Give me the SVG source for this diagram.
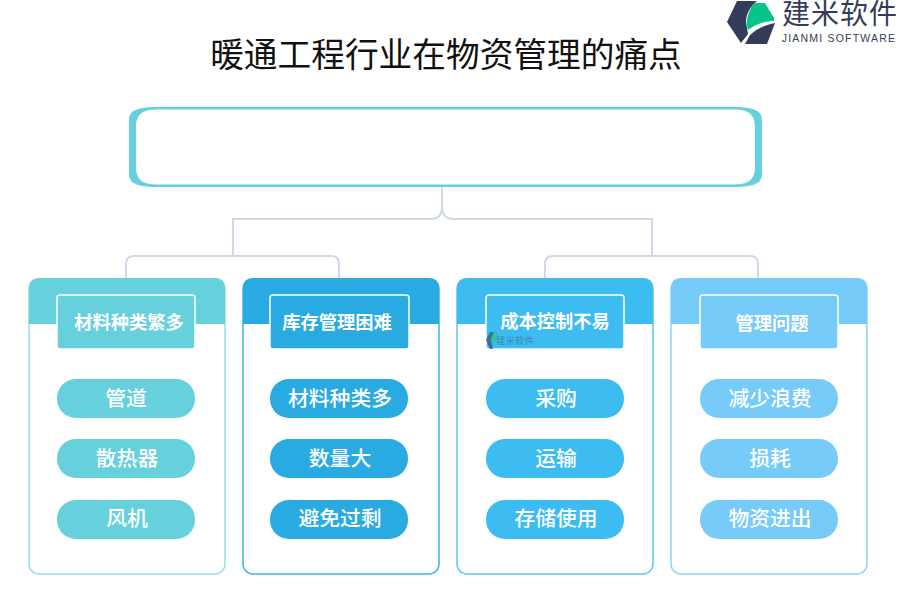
<svg xmlns="http://www.w3.org/2000/svg" width="900" height="600" viewBox="0 0 900 600">
<style>
text{font-family:"Liberation Serif","Noto Sans CJK SC",serif;text-anchor:middle}
.title{font-size:33.700px;fill:#111}
.h{font-size:18.300px;font-weight:700;fill:#fff}
.p{font-size:20.800px;font-weight:500;fill:#fff}
.c{fill:none;stroke:#cfd9e8;stroke-width:2}
.card{fill:#fff;stroke-width:1.5}
.lb{stroke:#fff;stroke-width:1.5}
.logo{font-family:"Liberation Sans","Noto Sans CJK SC",sans-serif;fill:#333c58}
</style>
<rect width="900" height="600" fill="#fff"/>
<text class="title" x="446" y="67">暖通工程行业在物资管理的痛点</text>
<g id="logo">
<path d="M737 1H757C750 7 746 14 746 22L748 34L741 43L727 22Z" fill="#333c58"/>
<path d="M755 3H765L774 18V21C763 21 754 25 748 30C747 26 746.500 23 747 20C748 13 751 7 755 3Z" fill="#06c58a"/>
<path d="M775 23L767 44H745L750 35C756 29 765 25 775 23Z" fill="#333c58"/>
<text class="logo" x="840" y="24" style="font-size:28px;letter-spacing:1px">建米软件</text>
<text class="logo" x="839" y="42" style="font-size:10.500px;letter-spacing:1.200px">JIANMI SOFTWARE</text>
</g>
<g id="root">
<path fill="#66d1dc" fill-rule="evenodd" d="M158 107H733C750 107 762 109 762 120V174C762 185 750 187 733 187H158C141 187 129 185 129 174V120C129 109 141 107 158 107ZM158 109.500C145 109.500 136 112 136 128V166C136 182 145 184.500 158 184.500H733C746 184.500 755 182 755 166V128C755 112 746 109.500 733 109.500Z"/>
</g>
<g id="connectors">
<path class="c" d="M442 187V207Q442 219 430 219H233V256"/>
<path class="c" d="M442 207Q442 219 454 219H652V256"/>
<path class="c" d="M126 278V264Q126 256 134 256H331Q339 256 339 264V278"/>
<path class="c" d="M545 278V264Q545 256 553 256H750Q758 256 758 264V278"/>
</g>
<g id="card1">
<rect class="card" x="29" y="279" width="196" height="295" rx="10" stroke="#94dfe8"/>
<path d="M29 324V288Q29 278 39 278H215Q225 278 225 288V324Z" fill="#66d1dc"/>
<rect class="lb" x="57" y="295" width="138" height="54" rx="3" fill="#66d1dc"/>
<text class="h" x="129" y="329">材料种类繁多</text>
<rect x="57" y="379" width="138" height="39" rx="19" fill="#66d1dc"/><text class="p" x="126" y="406">管道</text>
<rect x="57" y="439" width="138" height="39" rx="19" fill="#66d1dc"/><text class="p" x="127" y="466">散热器</text>
<rect x="57" y="500" width="138" height="39" rx="19" fill="#66d1dc"/><text class="p" x="127" y="526">风机</text>
</g>
<g id="card2">
<rect class="card" x="243" y="279" width="196" height="295" rx="10" stroke="#3fb3e6"/>
<path d="M243 324V288Q243 278 253 278H429Q439 278 439 288V324Z" fill="#29abe2"/>
<rect class="lb" x="270" y="295" width="139" height="54" rx="3" fill="#29abe2"/>
<text class="h" x="337" y="329">库存管理困难</text>
<rect x="270" y="379" width="138" height="39" rx="19" fill="#29abe2"/><text class="p" x="340" y="406">材料种类多</text>
<rect x="270" y="439" width="138" height="39" rx="19" fill="#29abe2"/><text class="p" x="340" y="466">数量大</text>
<rect x="270" y="500" width="138" height="39" rx="19" fill="#29abe2"/><text class="p" x="340" y="526">避免过剩</text>
</g>
<g id="card3">
<rect class="card" x="457" y="279" width="196" height="295" rx="10" stroke="#5cc6f3"/>
<path d="M457 324V288Q457 278 467 278H643Q653 278 653 288V324Z" fill="#3dbcf2"/>
<rect class="lb" x="486" y="295" width="138" height="54" rx="3" fill="#3dbcf2"/>
<text class="h" x="555" y="328">成本控制不易</text>
<g id="watermark" opacity=".8">
<path d="M490 332H494L491 340L493 349H490L486 340Z" fill="#3f5a78"/>
<path d="M494 332H497L499 339C496 340 493 342 492 345L491 339Z" fill="#2fbf9a"/>
<text x="515" y="344" style="font-family:'Liberation Sans','Noto Sans CJK SC',sans-serif;font-size:9.500px;fill:#3b7fa8">建米软件</text>
</g>
<rect x="486" y="379" width="138" height="39" rx="19" fill="#3dbcf2"/><text class="p" x="556" y="406">采购</text>
<rect x="486" y="439" width="138" height="39" rx="19" fill="#3dbcf2"/><text class="p" x="556" y="466">运输</text>
<rect x="486" y="500" width="138" height="39" rx="19" fill="#3dbcf2"/><text class="p" x="556" y="526">存储使用</text>
</g>
<g id="card4">
<rect class="card" x="671" y="279" width="196" height="295" rx="10" stroke="#8cd3f8"/>
<path d="M671 324V288Q671 278 681 278H857Q867 278 867 288V324Z" fill="#76cbf8"/>
<rect class="lb" x="700" y="295" width="138" height="54" rx="3" fill="#76cbf8"/>
<text class="h" x="772" y="330">管理问题</text>
<rect x="700" y="379" width="138" height="39" rx="19" fill="#76cbf8"/><text class="p" x="770" y="406">减少浪费</text>
<rect x="700" y="439" width="138" height="39" rx="19" fill="#76cbf8"/><text class="p" x="770" y="466">损耗</text>
<rect x="700" y="500" width="138" height="39" rx="19" fill="#76cbf8"/><text class="p" x="770" y="526">物资进出</text>
</g>
</svg>
